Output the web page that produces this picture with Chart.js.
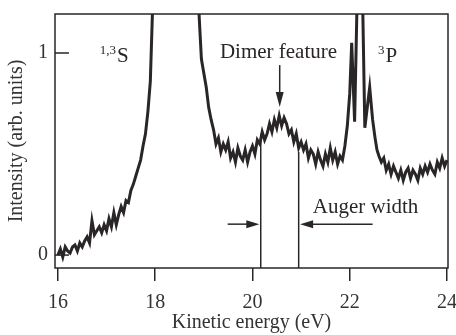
<!DOCTYPE html>
<html>
<head>
<meta charset="utf-8">
<script src="https://cdn.jsdelivr.net/npm/chart.js@4"></script>
<style>
  html, body { margin: 0; padding: 0; background: #fff; }
  canvas { display: block; }
</style>
</head>
<body>
<canvas id="plot_auger" width="456" height="335"></canvas>
<script>
var energy = [
  16.00, 16.05, 16.10, 16.15, 16.20, 16.25, 16.30, 16.35, 16.40, 16.45,
  16.50, 16.55, 16.60, 16.65, 16.70, 16.75, 16.80, 16.85, 16.90, 16.95,
  17.00, 17.05, 17.10, 17.15, 17.20, 17.25, 17.30, 17.35, 17.40, 17.45,
  17.50, 17.55, 17.60, 17.65, 17.70, 17.75, 17.80, 17.85, 17.90, 17.95,
  18.00, 18.05, 18.10, 18.15, 18.20, 18.25, 18.30, 18.35, 18.40, 18.45,
  18.50, 18.55, 18.60, 18.65, 18.70, 18.75, 18.80, 18.85, 18.90, 18.95,
  19.00, 19.05, 19.10, 19.15, 19.20, 19.25, 19.30, 19.35, 19.40, 19.45,
  19.50, 19.55, 19.60, 19.65, 19.70, 19.75, 19.80, 19.85, 19.90, 19.95,
  20.00, 20.05, 20.10, 20.15, 20.20, 20.25, 20.30, 20.35, 20.40, 20.45,
  20.50, 20.55, 20.60, 20.65, 20.70, 20.75, 20.80, 20.85, 20.90, 20.95,
  21.00, 21.05, 21.10, 21.15, 21.20, 21.25, 21.30, 21.35, 21.40, 21.45,
  21.50, 21.55, 21.60, 21.65, 21.70, 21.75, 21.80, 21.85, 21.90, 21.95,
  22.00, 22.04, 22.10, 22.18, 22.21, 22.24, 22.31, 22.41, 22.47, 22.52,
  22.56, 22.60, 22.65, 22.70, 22.75, 22.80, 22.85, 22.90, 22.95, 23.00,
  23.05, 23.10, 23.15, 23.20, 23.25, 23.30, 23.35, 23.40, 23.45, 23.50,
  23.55, 23.60, 23.65, 23.70, 23.75, 23.80, 23.85, 23.90, 23.95, 24.00
];

var intensity = [
  0.00, 0.03, -0.01, 0.04, 0.02, 0.01, 0.04, 0.05, 0.02, 0.06,
  0.04, 0.07, 0.09, 0.06, 0.17, 0.10, 0.12, 0.14, 0.11, 0.15,
  0.12, 0.18, 0.14, 0.21, 0.15, 0.20, 0.24, 0.21, 0.27, 0.26,
  0.32, 0.35, 0.39, 0.43, 0.47, 0.54, 0.60, 0.71, 0.86, 1.25,
  2.0, 2.8, 3.6, 4.5, 5.5, 6.5, 7.2, 7.6, 7.4, 6.8,
  5.9, 5.0, 4.1, 3.2, 2.5, 2.0, 1.6, 1.35, 1.20, 0.97,
  0.90, 0.83, 0.73, 0.67, 0.62, 0.55, 0.58, 0.51, 0.55, 0.52,
  0.56, 0.48, 0.51, 0.46, 0.53, 0.49, 0.47, 0.52, 0.46, 0.51,
  0.54, 0.50, 0.57, 0.55, 0.61, 0.57, 0.60, 0.65, 0.61, 0.67,
  0.63, 0.69, 0.64, 0.68, 0.65, 0.60, 0.62, 0.56, 0.60, 0.53,
  0.56, 0.52, 0.55, 0.48, 0.52, 0.50, 0.45, 0.51, 0.47, 0.44,
  0.50, 0.46, 0.53, 0.47, 0.51, 0.45, 0.49, 0.47, 0.54, 0.64,
  0.80, 1.05, 0.66, 1.60, 1.35, 1.60, 0.63, 0.83, 0.67, 0.58,
  0.52, 0.49, 0.46, 0.48, 0.42, 0.45, 0.40, 0.44, 0.41, 0.38,
  0.42, 0.37, 0.41, 0.43, 0.38, 0.42, 0.40, 0.37, 0.43, 0.40,
  0.44, 0.41, 0.45, 0.42, 0.40, 0.46, 0.43, 0.48, 0.44, 0.47
];

var xTicks = [16, 18, 20, 22, 24];
var yTicks = [0, 1];

var ink = "#2a2627";
var serif = "'Liberation Serif', 'DejaVu Serif', serif";

function arrow(ctx, x0, y0, x1, y1, len, half) {
  var a = Math.atan2(y1 - y0, x1 - x0);
  ctx.beginPath();
  ctx.moveTo(x0, y0);
  ctx.lineTo(x1 - Math.cos(a) * len * 0.8, y1 - Math.sin(a) * len * 0.8);
  ctx.stroke();
  ctx.beginPath();
  ctx.moveTo(x1, y1);
  ctx.lineTo(x1 - Math.cos(a) * len - Math.sin(a) * half, y1 - Math.sin(a) * len + Math.cos(a) * half);
  ctx.lineTo(x1 - Math.cos(a) * len + Math.sin(a) * half, y1 - Math.sin(a) * len - Math.cos(a) * half);
  ctx.closePath();
  ctx.fill();
}

function supText(ctx, x, y, sup, main) {
  ctx.textAlign = "left";
  ctx.textBaseline = "alphabetic";
  ctx.font = "13px " + serif;
  ctx.fillText(sup, x, y - 8);
  var w = ctx.measureText(sup).width;
  ctx.font = "21px " + serif;
  ctx.fillText(main, x + w + 1, y);
}

var frame = {
  id: "frame",
  afterDraw(chart) {
    var ctx = chart.ctx;
    var a = chart.chartArea;
    var sx = chart.scales.x;
    var sy = chart.scales.y;
    ctx.save();
    ctx.strokeStyle = ink;
    ctx.fillStyle = ink;
    ctx.lineWidth = 1.5;
    ctx.strokeRect(a.left, a.top, a.right - a.left, a.bottom - a.top);

    // inward ticks on the intensity axis
    yTicks.forEach(function (v) {
      var y = sy.getPixelForValue(v);
      ctx.beginPath();
      ctx.moveTo(a.left, y);
      ctx.lineTo(a.left + 14, y);
      ctx.stroke();
    });

    // Auger width markers
    [[20.17, 0.60], [20.95, 0.51]].forEach(function (m) {
      ctx.beginPath();
      ctx.moveTo(sx.getPixelForValue(m[0]), a.bottom);
      ctx.lineTo(sx.getPixelForValue(m[0]), sy.getPixelForValue(m[1]));
      ctx.stroke();
    });
    var ya = sy.getPixelForValue(0.153);
    arrow(ctx, sx.getPixelForValue(19.49), ya, sx.getPixelForValue(20.14), ya, 13, 4);
    arrow(ctx, sx.getPixelForValue(22.47), ya, sx.getPixelForValue(20.98), ya, 13, 4);

    // dimer arrow
    arrow(ctx, sx.getPixelForValue(20.56), sy.getPixelForValue(0.94),
      sx.getPixelForValue(20.56), sy.getPixelForValue(0.733), 15, 4);

    ctx.textAlign = "left";
    ctx.textBaseline = "alphabetic";
    ctx.font = "21px " + serif;
    ctx.fillText("Dimer feature", sx.getPixelForValue(19.33), sy.getPixelForValue(0.975));
    ctx.fillText("Auger width", sx.getPixelForValue(21.24), sy.getPixelForValue(0.208));

    supText(ctx, sx.getPixelForValue(16.86), sy.getPixelForValue(0.955), "1,3", "S");
    supText(ctx, sx.getPixelForValue(22.58), sy.getPixelForValue(0.955), "3", "P");
    ctx.restore();
  },
};

var plot_auger = new Chart(document.getElementById("plot_auger"), {
  type: "line",
  data: {
    datasets: [
      {
        label: "Intensity",
        data: energy.map(function (e, i) { return { x: e, y: intensity[i] }; }),
        borderColor: ink,
        borderWidth: 3,
        pointRadius: 0,
        fill: false,
        tension: 0,
        clip: 0,
      },
    ],
  },
  options: {
    responsive: false,
    animation: false,
    events: [],
    layout: { padding: { left: 0, right: 8, top: 14, bottom: 0 } },
    plugins: { legend: { display: false }, tooltip: { enabled: false } },
    scales: {
      x: {
        type: "linear",
        min: 15.94,
        max: 24.02,
        afterBuildTicks(s) { s.ticks = xTicks.map(function (v) { return { value: v }; }); },
        afterFit(s) { s.height = 67; s.paddingLeft = 0; s.paddingRight = 0; },
        border: { display: false },
        grid: { drawOnChartArea: false, tickLength: 13, color: ink, lineWidth: 1.5 },
        ticks: { color: "#333", font: { family: serif, size: 20 }, padding: 10, maxRotation: 0 },
        title: {
          display: true,
          text: "Kinetic energy (eV)",
          color: "#333",
          font: { family: serif, size: 20 },
          padding: { top: 0, bottom: 0 },
        },
      },
      y: {
        min: -0.064,
        max: 1.193,
        afterBuildTicks(s) { s.ticks = yTicks.map(function (v) { return { value: v }; }); },
        afterFit(s) { s.width = 55; s.paddingTop = 0; s.paddingBottom = 0; },
        border: { display: false },
        grid: { display: false, drawTicks: false },
        ticks: { color: "#333", font: { family: serif, size: 20 }, padding: 7 },
        title: {
          display: true,
          text: "Intensity (arb. units)",
          color: "#333",
          font: { family: serif, size: 20 },
          padding: { top: 5, bottom: 0 },
        },
      },
    },
  },
  plugins: [frame],
});
</script>
</body>
</html>
